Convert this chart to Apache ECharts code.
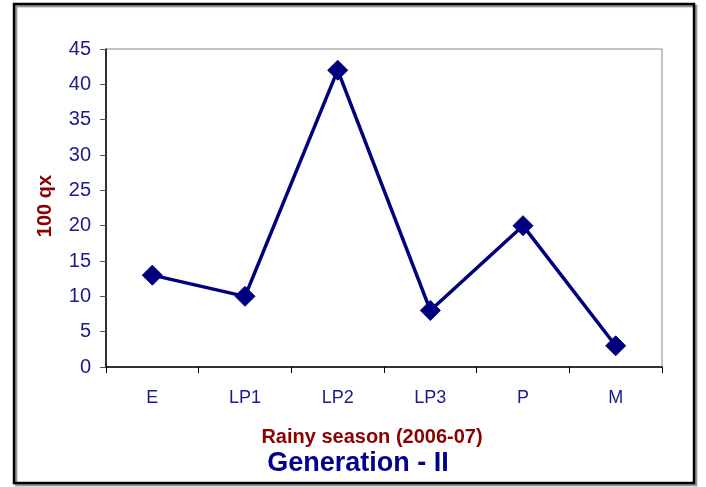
<!DOCTYPE html>
<html><head><meta charset="utf-8">
<script src="https://cdn.jsdelivr.net/npm/echarts@6/dist/echarts.min.js"></script>
<style>html,body{margin:0;padding:0;background:#fff}#c{width:706px;height:487px}</style>
</head><body><div id="c"></div>
<script>
const categories = ['E', 'LP1', 'LP2', 'LP3', 'P', 'M'];
const values = [13, 10, 42, 8, 20, 3];
const yTicks = [0, 45, 5];

const chart = echarts.init(document.getElementById('c'));
chart.setOption({
  animation: false,
  backgroundColor: '#fff',
  graphic: [
    { type: 'rect', shape: { x: 14, y: 4, width: 680, height: 479 },
      style: { fill: 'none', stroke: '#000', lineWidth: 2.5, shadowColor: 'rgba(0,0,0,0.45)', shadowOffsetX: 2, shadowOffsetY: 2, shadowBlur: 1 } },
    { type: 'text', x: 372, y: 437, style: { text: 'Rainy season (2006-07)', fill: '#8b0000', font: 'bold 20px "Liberation Sans", Arial', textAlign: 'center', textVerticalAlign: 'middle' } },
    { type: 'text', x: 358, y: 464, style: { text: 'Generation - II', fill: '#00008b', font: 'bold 27px "Liberation Sans", Arial', textAlign: 'center', textVerticalAlign: 'middle' } },
    { type: 'text', x: 45, y: 206, rotation: Math.PI / 2, style: { text: '100 qx', fill: '#8b0000', font: 'bold 20px "Liberation Sans", Arial', textAlign: 'center', textVerticalAlign: 'middle' } }
  ],
  grid: { left: 106, top: 49, width: 556, height: 318, show: true, borderColor: '#888', borderWidth: 1, backgroundColor: 'transparent' },
  xAxis: {
    type: 'category', data: categories, boundaryGap: true,
    axisLine: { lineStyle: { color: '#000', width: 1.5 } },
    axisTick: { show: true, length: 6, interval: 0, lineStyle: { color: '#000' } },
    axisLabel: { margin: 22, color: '#1a1a8c', fontSize: 18, fontFamily: '"Liberation Sans", Arial' },
    splitLine: { show: false }
  },
  yAxis: {
    type: 'value', min: yTicks[0], max: yTicks[1], interval: yTicks[2],
    axisLine: { show: true, lineStyle: { color: '#000', width: 1.5 } },
    axisTick: { show: true, length: 6, lineStyle: { color: '#555' } },
    axisLabel: { margin: 15, color: '#1a1a8c', fontSize: 20, fontFamily: '"Liberation Sans", Arial' },
    splitLine: { show: false }
  },
  series: [{
    type: 'line', data: values,
    symbol: 'diamond', symbolSize: 20,
    lineStyle: { color: '#00007f', width: 3.5 },
    itemStyle: { color: '#00007f', borderColor: '#00007f', borderWidth: 1 }
  }]
});
</script></body></html>
